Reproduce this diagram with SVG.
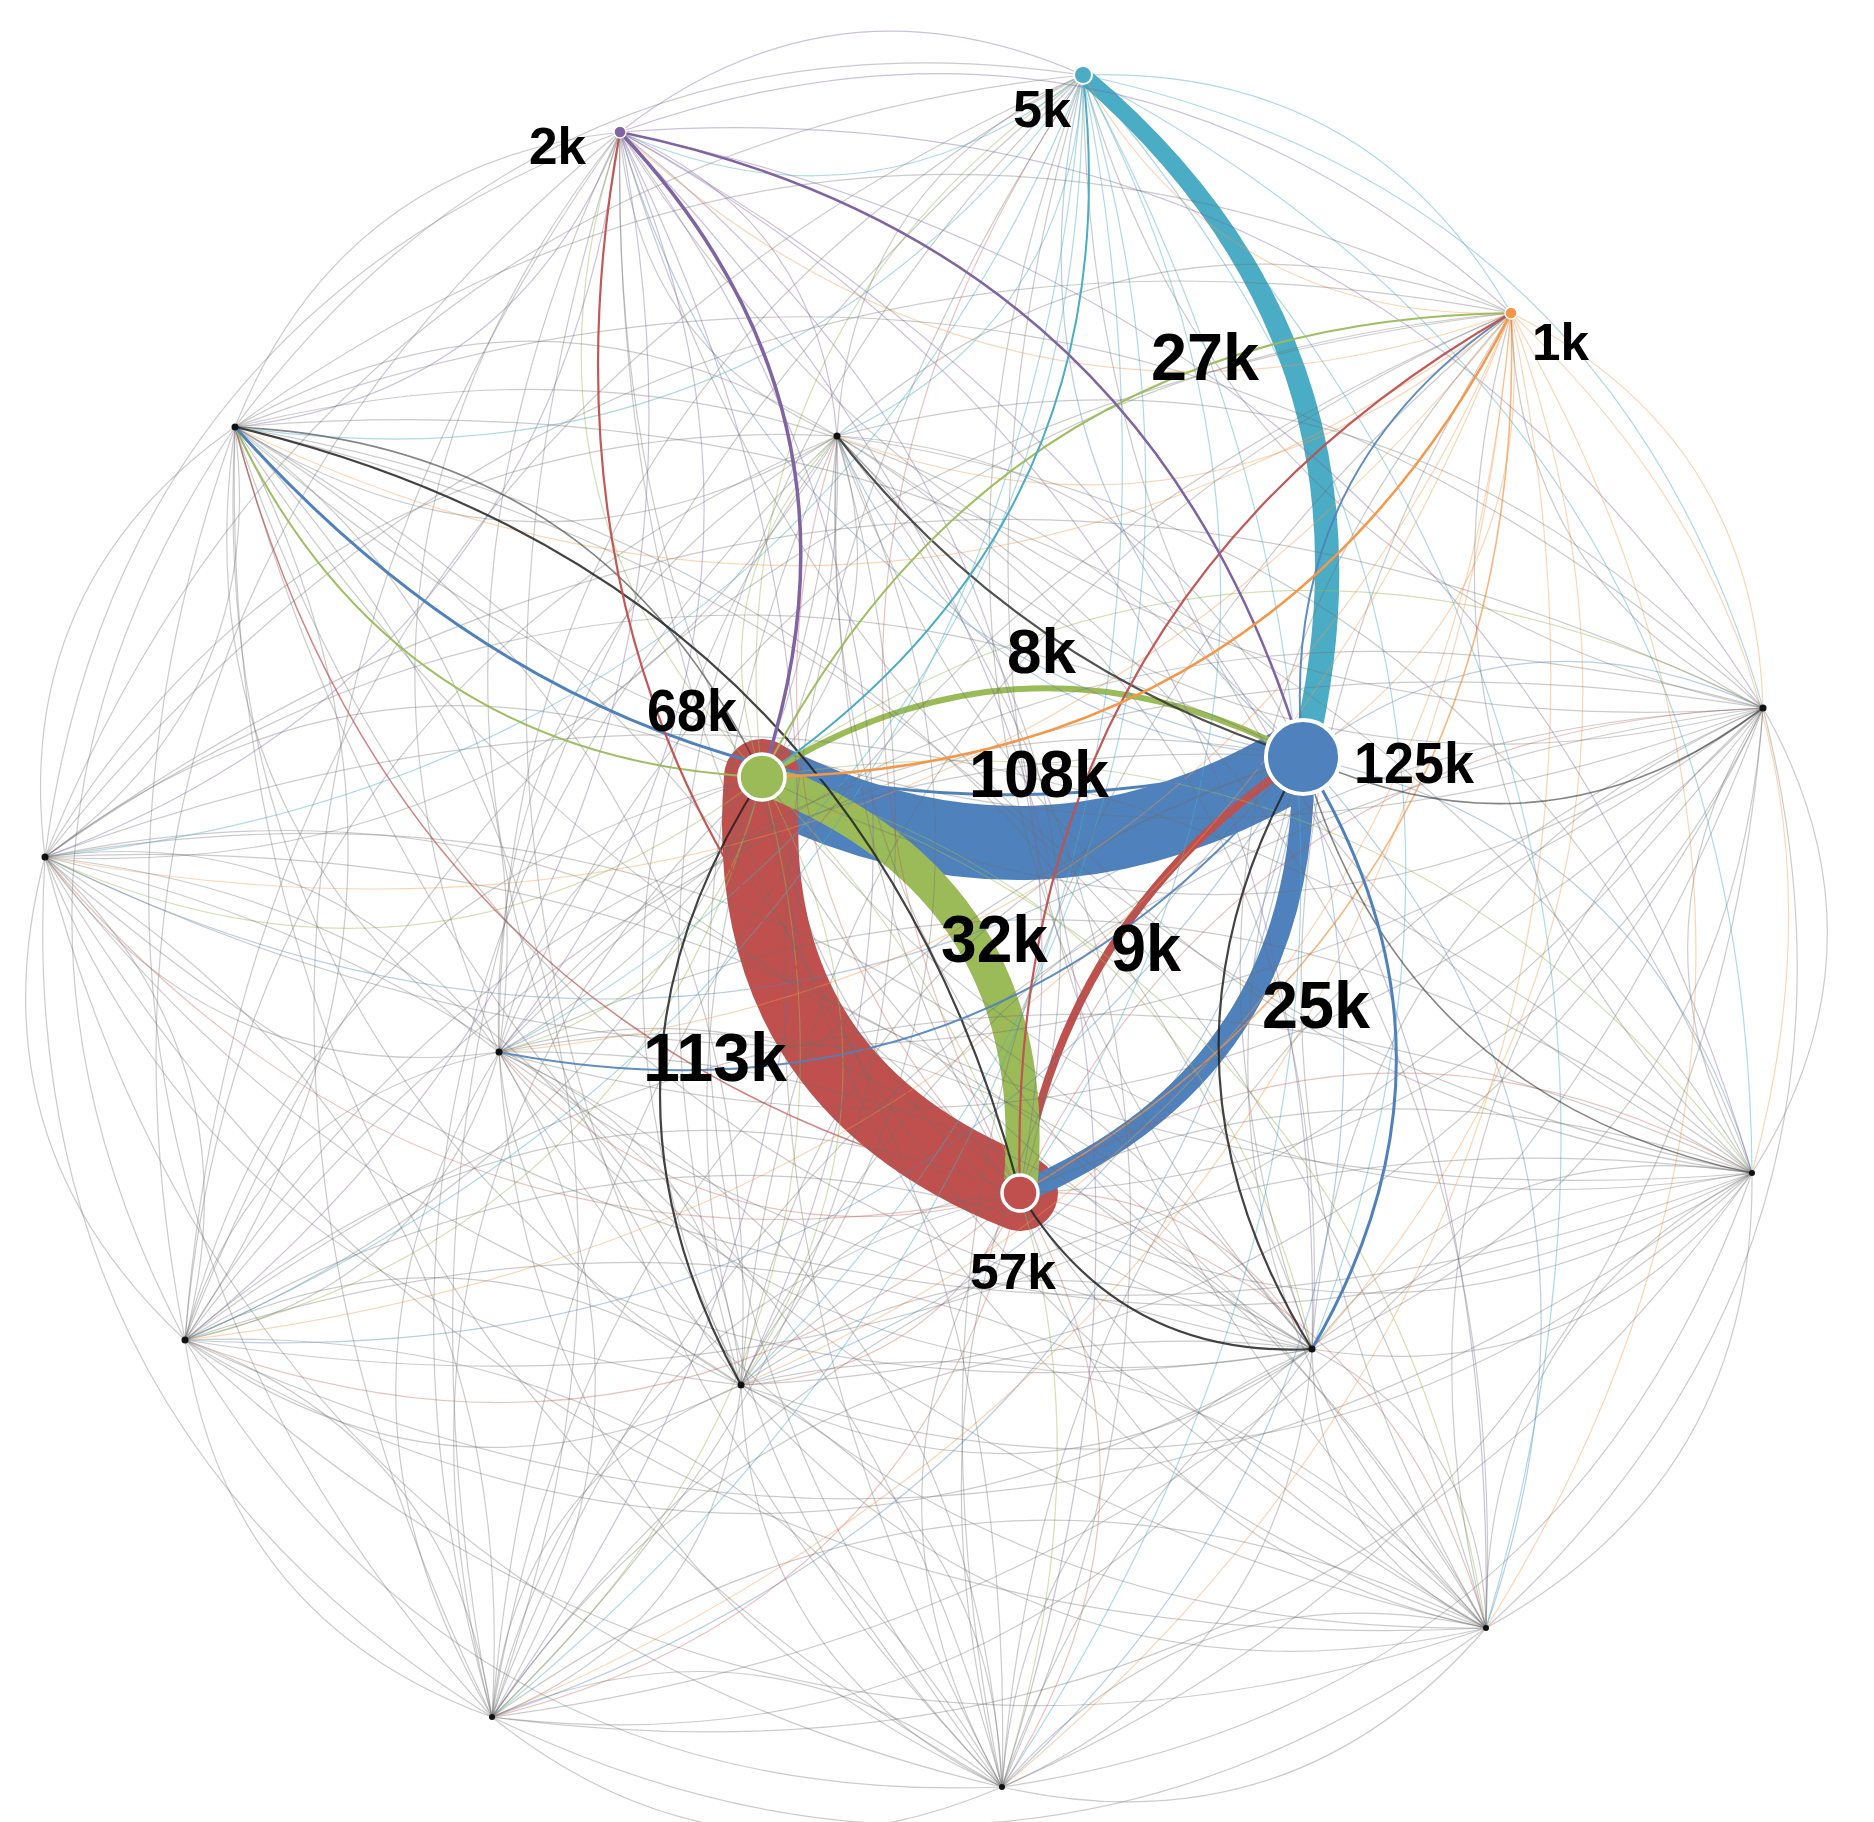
<svg xmlns="http://www.w3.org/2000/svg" width="1874" height="1822" viewBox="0 0 1874 1822">
<style>
.bg{fill:#ffffff}
#e{fill:none;vector-effect:non-scaling-stroke}
.g{stroke:#6e6e6e;stroke-width:1.2;stroke-opacity:.36}
.gm{stroke:#333;stroke-width:1.6;stroke-opacity:.6}
.gd{stroke:#222;stroke-width:2.2;stroke-opacity:.85}
.fg{stroke:#9bbb59;stroke-width:1.2;stroke-opacity:.45}
.fb{stroke:#4f81bd;stroke-width:1.2;stroke-opacity:.4}
.fr{stroke:#c0504d;stroke-width:1.2;stroke-opacity:.35}
.fr2{stroke:#c0504d;stroke-width:1.5;stroke-opacity:.7}
.fc{stroke:#4bacc6;stroke-width:1.2;stroke-opacity:.45}
.fp{stroke:#8064a2;stroke-width:1.2;stroke-opacity:.4}
.fo{stroke:#f79646;stroke-width:1.2;stroke-opacity:.4}
.fo2{stroke:#f79646;stroke-width:1.6;stroke-opacity:.7}
.mg{stroke:#9bbb59;stroke-width:2;stroke-opacity:.95}
.mb{stroke:#4f81bd;stroke-width:3}
.mb2{stroke:#4f81bd;stroke-width:2;stroke-opacity:.9}
.mr{stroke:#c0504d;stroke-width:2.2;stroke-opacity:.95}
.mc{stroke:#4bacc6;stroke-width:2}
.mp{stroke:#8064a2;stroke-width:3.5}
.mp2{stroke:#8064a2;stroke-width:2.5}
.mo{stroke:#f79646;stroke-width:2.5}
.thick{fill:none}
.n{stroke:#fff}
.blk{fill:#111}
.lbl{font-family:"Liberation Sans",Arial,sans-serif;font-weight:bold;fill:#000}
</style>
<defs>
<path id="e" d="M0 0Q0.5 -0.3 1 0"/>
</defs>
<rect class="bg" x="0" y="0" width="1874" height="1822"/>
<g id="edges">
<g id="thick-edges">
<path class="thick" d="M1303 757Q1038 918.5 762 777" stroke="#4f81bd" stroke-width="74" stroke-linecap="round"/>
<path class="thick" d="M1020 1193Q737 1080.5 762 777" stroke="#c0504d" stroke-width="76" stroke-linecap="round"/>
<path class="thick" d="M1303 757Q1309.5 1071 1020 1193" stroke="#4f81bd" stroke-width="22" stroke-linecap="round"/>
<path class="thick" d="M1020 1193Q1065.5 913 1303 757" stroke="#c0504d" stroke-width="8" stroke-linecap="round"/>
<path class="thick" d="M762 777Q1049 887 1020 1193" stroke="#9bbb59" stroke-width="34" stroke-linecap="round"/>
<path class="thick" d="M762 777Q1026.7 610 1303 757" stroke="#9bbb59" stroke-width="6" stroke-linecap="round"/>
<path d="M1088.2 68.9Q1416.4 344 1315.6 760.1L1290.4 753.9Q1391.6 352 1077.8 81.1Z" fill="#4bacc6"/>
</g>
<g id="thin-edges">
<use href="#e" class="fg" transform="matrix(321 -702 702 321 762 777)"/>
<use href="#e" class="fg" transform="matrix(-142 -645 645 -142 762 777)"/>
<use href="#e" class="fg" transform="matrix(75 -341 341 75 762 777)"/>
<use href="#e" class="g" transform="matrix(-75 341 -341 -75 837 436)"/>
<use href="#e" class="fg" transform="matrix(1001 -69 69 1001 762 777)"/>
<use href="#e" class="g" transform="matrix(-1001 69 -69 -1001 1763 708)"/>
<use href="#e" class="fg" transform="matrix(-717 80 -80 -717 762 777)"/>
<use href="#e" class="g" transform="matrix(717 -80 80 717 45 857)"/>
<use href="#e" class="fg" transform="matrix(-263 275 -275 -263 762 777)"/>
<use href="#e" class="g" transform="matrix(263 -275 275 263 499 1052)"/>
<use href="#e" class="fg" transform="matrix(-577 563 -563 -577 762 777)"/>
<use href="#e" class="g" transform="matrix(577 -563 563 577 185 1340)"/>
<use href="#e" class="fg" transform="matrix(-21 608 -608 -21 762 777)"/>
<use href="#e" class="fg" transform="matrix(550 572 -572 550 762 777)"/>
<use href="#e" class="g" transform="matrix(-550 -572 572 -550 1312 1349)"/>
<use href="#e" class="fg" transform="matrix(990 396 -396 990 762 777)"/>
<use href="#e" class="g" transform="matrix(-990 -396 396 -990 1752 1173)"/>
<use href="#e" class="fg" transform="matrix(724 851 -851 724 762 777)"/>
<use href="#e" class="g" transform="matrix(-724 -851 851 -724 1486 1628)"/>
<use href="#e" class="fg" transform="matrix(-270 940 -940 -270 762 777)"/>
<use href="#e" class="g" transform="matrix(270 -940 940 270 492 1717)"/>
<use href="#e" class="fg" transform="matrix(240 1010 -1010 240 762 777)"/>
<use href="#e" class="g" transform="matrix(-240 -1010 1010 -240 1002 1787)"/>
<use href="#e" class="fb" transform="matrix(-220 -682 682 -220 1303 757)"/>
<use href="#e" class="fb" transform="matrix(-683 -625 625 -683 1303 757)"/>
<use href="#e" class="fo" transform="matrix(-208 444 -444 -208 1511 313)"/>
<use href="#e" class="g" transform="matrix(1068 330 -330 1068 235 427)"/>
<use href="#e" class="fb" transform="matrix(-466 -321 321 -466 1303 757)"/>
<use href="#e" class="g" transform="matrix(466 321 -321 466 837 436)"/>
<use href="#e" class="fb" transform="matrix(460 -49 49 460 1303 757)"/>
<use href="#e" class="fb" transform="matrix(-1258 100 -100 -1258 1303 757)"/>
<use href="#e" class="g" transform="matrix(1258 -100 100 1258 45 857)"/>
<use href="#e" class="g" transform="matrix(804 -295 295 804 499 1052)"/>
<use href="#e" class="fb" transform="matrix(-1118 583 -583 -1118 1303 757)"/>
<use href="#e" class="g" transform="matrix(1118 -583 583 1118 185 1340)"/>
<use href="#e" class="fb" transform="matrix(-562 628 -628 -562 1303 757)"/>
<use href="#e" class="g" transform="matrix(562 -628 628 562 741 1385)"/>
<use href="#e" class="fb" transform="matrix(449 416 -416 449 1303 757)"/>
<use href="#e" class="fb" transform="matrix(183 871 -871 183 1303 757)"/>
<use href="#e" class="g" transform="matrix(-183 -871 871 -183 1486 1628)"/>
<use href="#e" class="fb" transform="matrix(-811 960 -960 -811 1303 757)"/>
<use href="#e" class="g" transform="matrix(811 -960 960 811 492 1717)"/>
<use href="#e" class="fb" transform="matrix(-301 1030 -1030 -301 1303 757)"/>
<use href="#e" class="g" transform="matrix(301 -1030 1030 301 1002 1787)"/>
<use href="#e" class="fr" transform="matrix(63 -1118 1118 63 1020 1193)"/>
<use href="#e" class="fc" transform="matrix(-63 1118 -1118 -63 1083 75)"/>
<use href="#e" class="fp" transform="matrix(400 1061 -1061 400 620 132)"/>
<use href="#e" class="fo2" transform="matrix(-491 880 -880 -491 1511 313)"/>
<use href="#e" class="fr2" transform="matrix(-785 -766 766 -785 1020 1193)"/>
<use href="#e" class="fr" transform="matrix(-183 -757 757 -183 1020 1193)"/>
<use href="#e" class="g" transform="matrix(183 757 -757 183 837 436)"/>
<use href="#e" class="fr" transform="matrix(743 -485 485 743 1020 1193)"/>
<use href="#e" class="g" transform="matrix(-743 485 -485 -743 1763 708)"/>
<use href="#e" class="fr" transform="matrix(-975 -336 336 -975 1020 1193)"/>
<use href="#e" class="g" transform="matrix(975 336 -336 975 45 857)"/>
<use href="#e" class="fr" transform="matrix(-521 -141 141 -521 1020 1193)"/>
<use href="#e" class="g" transform="matrix(521 141 -141 521 499 1052)"/>
<use href="#e" class="fr" transform="matrix(-835 147 -147 -835 1020 1193)"/>
<use href="#e" class="g" transform="matrix(835 -147 147 835 185 1340)"/>
<use href="#e" class="fr" transform="matrix(-279 192 -192 -279 1020 1193)"/>
<use href="#e" class="g" transform="matrix(279 -192 192 279 741 1385)"/>
<use href="#e" class="fr" transform="matrix(292 156 -156 292 1020 1193)"/>
<use href="#e" class="fr" transform="matrix(732 -20 20 732 1020 1193)"/>
<use href="#e" class="g" transform="matrix(-732 20 -20 -732 1752 1173)"/>
<use href="#e" class="fr" transform="matrix(466 435 -435 466 1020 1193)"/>
<use href="#e" class="g" transform="matrix(-466 -435 435 -466 1486 1628)"/>
<use href="#e" class="fr" transform="matrix(-528 524 -524 -528 1020 1193)"/>
<use href="#e" class="g" transform="matrix(528 -524 524 528 492 1717)"/>
<use href="#e" class="fr" transform="matrix(-18 594 -594 -18 1020 1193)"/>
<use href="#e" class="g" transform="matrix(18 -594 594 18 1002 1787)"/>
<use href="#e" class="fc" transform="matrix(-463 57 -57 -463 1083 75)"/>
<use href="#e" class="fp" transform="matrix(463 -57 57 463 620 132)"/>
<use href="#e" class="fc" transform="matrix(428 238 -238 428 1083 75)"/>
<use href="#e" class="fo" transform="matrix(-428 -238 238 -428 1511 313)"/>
<use href="#e" class="fc" transform="matrix(-848 352 -352 -848 1083 75)"/>
<use href="#e" class="g" transform="matrix(848 -352 352 848 235 427)"/>
<use href="#e" class="fc" transform="matrix(-246 361 -361 -246 1083 75)"/>
<use href="#e" class="g" transform="matrix(246 -361 361 246 837 436)"/>
<use href="#e" class="fc" transform="matrix(680 633 -633 680 1083 75)"/>
<use href="#e" class="g" transform="matrix(-680 -633 633 -680 1763 708)"/>
<use href="#e" class="fc" transform="matrix(-1038 782 -782 -1038 1083 75)"/>
<use href="#e" class="g" transform="matrix(1038 -782 782 1038 45 857)"/>
<use href="#e" class="fc" transform="matrix(-584 977 -977 -584 1083 75)"/>
<use href="#e" class="g" transform="matrix(584 -977 977 584 499 1052)"/>
<use href="#e" class="fc" transform="matrix(-898 1265 -1265 -898 1083 75)"/>
<use href="#e" class="g" transform="matrix(898 -1265 1265 898 185 1340)"/>
<use href="#e" class="fc" transform="matrix(-342 1310 -1310 -342 1083 75)"/>
<use href="#e" class="g" transform="matrix(342 -1310 1310 342 741 1385)"/>
<use href="#e" class="fc" transform="matrix(229 1274 -1274 229 1083 75)"/>
<use href="#e" class="g" transform="matrix(-229 -1274 1274 -229 1312 1349)"/>
<use href="#e" class="fc" transform="matrix(669 1098 -1098 669 1083 75)"/>
<use href="#e" class="g" transform="matrix(-669 -1098 1098 -669 1752 1173)"/>
<use href="#e" class="fc" transform="matrix(403 1553 -1553 403 1083 75)"/>
<use href="#e" class="g" transform="matrix(-403 -1553 1553 -403 1486 1628)"/>
<use href="#e" class="fc" transform="matrix(-591 1642 -1642 -591 1083 75)"/>
<use href="#e" class="g" transform="matrix(591 -1642 1642 591 492 1717)"/>
<use href="#e" class="fc" transform="matrix(-81 1712 -1712 -81 1083 75)"/>
<use href="#e" class="g" transform="matrix(81 -1712 1712 81 1002 1787)"/>
<use href="#e" class="fp" transform="matrix(891 181 -181 891 620 132)"/>
<use href="#e" class="fo" transform="matrix(-891 -181 181 -891 1511 313)"/>
<use href="#e" class="fp" transform="matrix(-385 295 -295 -385 620 132)"/>
<use href="#e" class="g" transform="matrix(385 -295 295 385 235 427)"/>
<use href="#e" class="fp" transform="matrix(217 304 -304 217 620 132)"/>
<use href="#e" class="g" transform="matrix(-217 -304 304 -217 837 436)"/>
<use href="#e" class="fp" transform="matrix(1143 576 -576 1143 620 132)"/>
<use href="#e" class="g" transform="matrix(-1143 -576 576 -1143 1763 708)"/>
<use href="#e" class="fp" transform="matrix(-575 725 -725 -575 620 132)"/>
<use href="#e" class="g" transform="matrix(575 -725 725 575 45 857)"/>
<use href="#e" class="fp" transform="matrix(-121 920 -920 -121 620 132)"/>
<use href="#e" class="g" transform="matrix(121 -920 920 121 499 1052)"/>
<use href="#e" class="fp" transform="matrix(-435 1208 -1208 -435 620 132)"/>
<use href="#e" class="g" transform="matrix(435 -1208 1208 435 185 1340)"/>
<use href="#e" class="fp" transform="matrix(121 1253 -1253 121 620 132)"/>
<use href="#e" class="g" transform="matrix(-121 -1253 1253 -121 741 1385)"/>
<use href="#e" class="fp" transform="matrix(692 1217 -1217 692 620 132)"/>
<use href="#e" class="g" transform="matrix(-692 -1217 1217 -692 1312 1349)"/>
<use href="#e" class="fp" transform="matrix(1132 1041 -1041 1132 620 132)"/>
<use href="#e" class="g" transform="matrix(-1132 -1041 1041 -1132 1752 1173)"/>
<use href="#e" class="fp" transform="matrix(866 1496 -1496 866 620 132)"/>
<use href="#e" class="g" transform="matrix(-866 -1496 1496 -866 1486 1628)"/>
<use href="#e" class="fp" transform="matrix(-128 1585 -1585 -128 620 132)"/>
<use href="#e" class="g" transform="matrix(128 -1585 1585 128 492 1717)"/>
<use href="#e" class="fp" transform="matrix(382 1655 -1655 382 620 132)"/>
<use href="#e" class="g" transform="matrix(-382 -1655 1655 -382 1002 1787)"/>
<use href="#e" class="fo" transform="matrix(-1276 114 -114 -1276 1511 313)"/>
<use href="#e" class="g" transform="matrix(1276 -114 114 1276 235 427)"/>
<use href="#e" class="fo" transform="matrix(-674 123 -123 -674 1511 313)"/>
<use href="#e" class="g" transform="matrix(674 -123 123 674 837 436)"/>
<use href="#e" class="fo" transform="matrix(252 395 -395 252 1511 313)"/>
<use href="#e" class="g" transform="matrix(-252 -395 395 -252 1763 708)"/>
<use href="#e" class="fo" transform="matrix(-1466 544 -544 -1466 1511 313)"/>
<use href="#e" class="g" transform="matrix(1466 -544 544 1466 45 857)"/>
<use href="#e" class="fo" transform="matrix(-1012 739 -739 -1012 1511 313)"/>
<use href="#e" class="g" transform="matrix(1012 -739 739 1012 499 1052)"/>
<use href="#e" class="fo" transform="matrix(-1326 1027 -1027 -1326 1511 313)"/>
<use href="#e" class="g" transform="matrix(1326 -1027 1027 1326 185 1340)"/>
<use href="#e" class="fo" transform="matrix(-770 1072 -1072 -770 1511 313)"/>
<use href="#e" class="g" transform="matrix(770 -1072 1072 770 741 1385)"/>
<use href="#e" class="fo" transform="matrix(-199 1036 -1036 -199 1511 313)"/>
<use href="#e" class="g" transform="matrix(199 -1036 1036 199 1312 1349)"/>
<use href="#e" class="fo" transform="matrix(241 860 -860 241 1511 313)"/>
<use href="#e" class="g" transform="matrix(-241 -860 860 -241 1752 1173)"/>
<use href="#e" class="fo" transform="matrix(-25 1315 -1315 -25 1511 313)"/>
<use href="#e" class="g" transform="matrix(25 -1315 1315 25 1486 1628)"/>
<use href="#e" class="fo" transform="matrix(-1019 1404 -1404 -1019 1511 313)"/>
<use href="#e" class="g" transform="matrix(1019 -1404 1404 1019 492 1717)"/>
<use href="#e" class="fo" transform="matrix(-509 1474 -1474 -509 1511 313)"/>
<use href="#e" class="g" transform="matrix(509 -1474 1474 509 1002 1787)"/>
<use href="#e" class="g" transform="matrix(602 9 -9 602 235 427)"/>
<use href="#e" class="g" transform="matrix(-602 -9 9 -602 837 436)"/>
<use href="#e" class="g" transform="matrix(1528 281 -281 1528 235 427)"/>
<use href="#e" class="g" transform="matrix(-1528 -281 281 -1528 1763 708)"/>
<use href="#e" class="g" transform="matrix(-190 430 -430 -190 235 427)"/>
<use href="#e" class="g" transform="matrix(190 -430 430 190 45 857)"/>
<use href="#e" class="g" transform="matrix(264 625 -625 264 235 427)"/>
<use href="#e" class="g" transform="matrix(-264 -625 625 -264 499 1052)"/>
<use href="#e" class="g" transform="matrix(-50 913 -913 -50 235 427)"/>
<use href="#e" class="g" transform="matrix(50 -913 913 50 185 1340)"/>
<use href="#e" class="g" transform="matrix(506 958 -958 506 235 427)"/>
<use href="#e" class="g" transform="matrix(-506 -958 958 -506 741 1385)"/>
<use href="#e" class="g" transform="matrix(1077 922 -922 1077 235 427)"/>
<use href="#e" class="g" transform="matrix(-1077 -922 922 -1077 1312 1349)"/>
<use href="#e" class="g" transform="matrix(1517 746 -746 1517 235 427)"/>
<use href="#e" class="g" transform="matrix(-1517 -746 746 -1517 1752 1173)"/>
<use href="#e" class="g" transform="matrix(1251 1201 -1201 1251 235 427)"/>
<use href="#e" class="g" transform="matrix(-1251 -1201 1201 -1251 1486 1628)"/>
<use href="#e" class="g" transform="matrix(257 1290 -1290 257 235 427)"/>
<use href="#e" class="g" transform="matrix(-257 -1290 1290 -257 492 1717)"/>
<use href="#e" class="g" transform="matrix(767 1360 -1360 767 235 427)"/>
<use href="#e" class="g" transform="matrix(-767 -1360 1360 -767 1002 1787)"/>
<use href="#e" class="g" transform="matrix(926 272 -272 926 837 436)"/>
<use href="#e" class="g" transform="matrix(-926 -272 272 -926 1763 708)"/>
<use href="#e" class="g" transform="matrix(-792 421 -421 -792 837 436)"/>
<use href="#e" class="g" transform="matrix(792 -421 421 792 45 857)"/>
<use href="#e" class="g" transform="matrix(-338 616 -616 -338 837 436)"/>
<use href="#e" class="g" transform="matrix(338 -616 616 338 499 1052)"/>
<use href="#e" class="g" transform="matrix(-652 904 -904 -652 837 436)"/>
<use href="#e" class="g" transform="matrix(652 -904 904 652 185 1340)"/>
<use href="#e" class="g" transform="matrix(-96 949 -949 -96 837 436)"/>
<use href="#e" class="g" transform="matrix(96 -949 949 96 741 1385)"/>
<use href="#e" class="g" transform="matrix(475 913 -913 475 837 436)"/>
<use href="#e" class="g" transform="matrix(-475 -913 913 -475 1312 1349)"/>
<use href="#e" class="g" transform="matrix(915 737 -737 915 837 436)"/>
<use href="#e" class="g" transform="matrix(-915 -737 737 -915 1752 1173)"/>
<use href="#e" class="g" transform="matrix(649 1192 -1192 649 837 436)"/>
<use href="#e" class="g" transform="matrix(-649 -1192 1192 -649 1486 1628)"/>
<use href="#e" class="g" transform="matrix(-345 1281 -1281 -345 837 436)"/>
<use href="#e" class="g" transform="matrix(345 -1281 1281 345 492 1717)"/>
<use href="#e" class="g" transform="matrix(165 1351 -1351 165 837 436)"/>
<use href="#e" class="g" transform="matrix(-165 -1351 1351 -165 1002 1787)"/>
<use href="#e" class="g" transform="matrix(-1718 149 -149 -1718 1763 708)"/>
<use href="#e" class="g" transform="matrix(1718 -149 149 1718 45 857)"/>
<use href="#e" class="g" transform="matrix(-1264 344 -344 -1264 1763 708)"/>
<use href="#e" class="g" transform="matrix(1264 -344 344 1264 499 1052)"/>
<use href="#e" class="g" transform="matrix(-1578 632 -632 -1578 1763 708)"/>
<use href="#e" class="g" transform="matrix(1578 -632 632 1578 185 1340)"/>
<use href="#e" class="g" transform="matrix(-1022 677 -677 -1022 1763 708)"/>
<use href="#e" class="g" transform="matrix(1022 -677 677 1022 741 1385)"/>
<use href="#e" class="g" transform="matrix(-451 641 -641 -451 1763 708)"/>
<use href="#e" class="g" transform="matrix(451 -641 641 451 1312 1349)"/>
<use href="#e" class="g" transform="matrix(-11 465 -465 -11 1763 708)"/>
<use href="#e" class="g" transform="matrix(11 -465 465 11 1752 1173)"/>
<use href="#e" class="g" transform="matrix(-277 920 -920 -277 1763 708)"/>
<use href="#e" class="g" transform="matrix(277 -920 920 277 1486 1628)"/>
<use href="#e" class="g" transform="matrix(-1271 1009 -1009 -1271 1763 708)"/>
<use href="#e" class="g" transform="matrix(1271 -1009 1009 1271 492 1717)"/>
<use href="#e" class="g" transform="matrix(-761 1079 -1079 -761 1763 708)"/>
<use href="#e" class="g" transform="matrix(761 -1079 1079 761 1002 1787)"/>
<use href="#e" class="g" transform="matrix(454 195 -195 454 45 857)"/>
<use href="#e" class="g" transform="matrix(-454 -195 195 -454 499 1052)"/>
<use href="#e" class="g" transform="matrix(140 483 -483 140 45 857)"/>
<use href="#e" class="g" transform="matrix(-140 -483 483 -140 185 1340)"/>
<use href="#e" class="g" transform="matrix(696 528 -528 696 45 857)"/>
<use href="#e" class="g" transform="matrix(-696 -528 528 -696 741 1385)"/>
<use href="#e" class="g" transform="matrix(1267 492 -492 1267 45 857)"/>
<use href="#e" class="g" transform="matrix(-1267 -492 492 -1267 1312 1349)"/>
<use href="#e" class="g" transform="matrix(1707 316 -316 1707 45 857)"/>
<use href="#e" class="g" transform="matrix(-1707 -316 316 -1707 1752 1173)"/>
<use href="#e" class="g" transform="matrix(1441 771 -771 1441 45 857)"/>
<use href="#e" class="g" transform="matrix(-1441 -771 771 -1441 1486 1628)"/>
<use href="#e" class="g" transform="matrix(447 860 -860 447 45 857)"/>
<use href="#e" class="g" transform="matrix(-447 -860 860 -447 492 1717)"/>
<use href="#e" class="g" transform="matrix(957 930 -930 957 45 857)"/>
<use href="#e" class="g" transform="matrix(-957 -930 930 -957 1002 1787)"/>
<use href="#e" class="g" transform="matrix(-314 288 -288 -314 499 1052)"/>
<use href="#e" class="g" transform="matrix(314 -288 288 314 185 1340)"/>
<use href="#e" class="g" transform="matrix(242 333 -333 242 499 1052)"/>
<use href="#e" class="g" transform="matrix(-242 -333 333 -242 741 1385)"/>
<use href="#e" class="g" transform="matrix(813 297 -297 813 499 1052)"/>
<use href="#e" class="g" transform="matrix(-813 -297 297 -813 1312 1349)"/>
<use href="#e" class="g" transform="matrix(1253 121 -121 1253 499 1052)"/>
<use href="#e" class="g" transform="matrix(-1253 -121 121 -1253 1752 1173)"/>
<use href="#e" class="g" transform="matrix(987 576 -576 987 499 1052)"/>
<use href="#e" class="g" transform="matrix(-987 -576 576 -987 1486 1628)"/>
<use href="#e" class="g" transform="matrix(-7 665 -665 -7 499 1052)"/>
<use href="#e" class="g" transform="matrix(7 -665 665 7 492 1717)"/>
<use href="#e" class="g" transform="matrix(503 735 -735 503 499 1052)"/>
<use href="#e" class="g" transform="matrix(-503 -735 735 -503 1002 1787)"/>
<use href="#e" class="g" transform="matrix(556 45 -45 556 185 1340)"/>
<use href="#e" class="g" transform="matrix(-556 -45 45 -556 741 1385)"/>
<use href="#e" class="g" transform="matrix(1127 9 -9 1127 185 1340)"/>
<use href="#e" class="g" transform="matrix(-1127 -9 9 -1127 1312 1349)"/>
<use href="#e" class="g" transform="matrix(1567 -167 167 1567 185 1340)"/>
<use href="#e" class="g" transform="matrix(-1567 167 -167 -1567 1752 1173)"/>
<use href="#e" class="g" transform="matrix(1301 288 -288 1301 185 1340)"/>
<use href="#e" class="g" transform="matrix(-1301 -288 288 -1301 1486 1628)"/>
<use href="#e" class="g" transform="matrix(307 377 -377 307 185 1340)"/>
<use href="#e" class="g" transform="matrix(-307 -377 377 -307 492 1717)"/>
<use href="#e" class="g" transform="matrix(817 447 -447 817 185 1340)"/>
<use href="#e" class="g" transform="matrix(-817 -447 447 -817 1002 1787)"/>
<use href="#e" class="g" transform="matrix(571 -36 36 571 741 1385)"/>
<use href="#e" class="g" transform="matrix(-571 36 -36 -571 1312 1349)"/>
<use href="#e" class="g" transform="matrix(1011 -212 212 1011 741 1385)"/>
<use href="#e" class="g" transform="matrix(-1011 212 -212 -1011 1752 1173)"/>
<use href="#e" class="g" transform="matrix(745 243 -243 745 741 1385)"/>
<use href="#e" class="g" transform="matrix(-745 -243 243 -745 1486 1628)"/>
<use href="#e" class="g" transform="matrix(-249 332 -332 -249 741 1385)"/>
<use href="#e" class="g" transform="matrix(249 -332 332 249 492 1717)"/>
<use href="#e" class="g" transform="matrix(261 402 -402 261 741 1385)"/>
<use href="#e" class="g" transform="matrix(-261 -402 402 -261 1002 1787)"/>
<use href="#e" class="g" transform="matrix(440 -176 176 440 1312 1349)"/>
<use href="#e" class="g" transform="matrix(-440 176 -176 -440 1752 1173)"/>
<use href="#e" class="g" transform="matrix(174 279 -279 174 1312 1349)"/>
<use href="#e" class="g" transform="matrix(-174 -279 279 -174 1486 1628)"/>
<use href="#e" class="g" transform="matrix(-820 368 -368 -820 1312 1349)"/>
<use href="#e" class="g" transform="matrix(820 -368 368 820 492 1717)"/>
<use href="#e" class="g" transform="matrix(-310 438 -438 -310 1312 1349)"/>
<use href="#e" class="g" transform="matrix(310 -438 438 310 1002 1787)"/>
<use href="#e" class="g" transform="matrix(-266 455 -455 -266 1752 1173)"/>
<use href="#e" class="g" transform="matrix(266 -455 455 266 1486 1628)"/>
<use href="#e" class="g" transform="matrix(-1260 544 -544 -1260 1752 1173)"/>
<use href="#e" class="g" transform="matrix(1260 -544 544 1260 492 1717)"/>
<use href="#e" class="g" transform="matrix(-750 614 -614 -750 1752 1173)"/>
<use href="#e" class="g" transform="matrix(750 -614 614 750 1002 1787)"/>
<use href="#e" class="g" transform="matrix(-994 89 -89 -994 1486 1628)"/>
<use href="#e" class="g" transform="matrix(994 -89 89 994 492 1717)"/>
<use href="#e" class="g" transform="matrix(-484 159 -159 -484 1486 1628)"/>
<use href="#e" class="g" transform="matrix(484 -159 159 484 1002 1787)"/>
<use href="#e" class="g" transform="matrix(510 70 -70 510 492 1717)"/>
<use href="#e" class="g" transform="matrix(-510 -70 70 -510 1002 1787)"/>
</g>
<g id="medium-edges">
<path class="thick" d="M837 436Q1020 669 1303 757" stroke="#333" stroke-width="2.2" stroke-opacity=".85"/>
<use href="#e" class="gm" transform="matrix(527 350 -350 527 235 427)"/>
<use href="#e" class="gm" transform="matrix(-460 49 -49 -460 1763 708)"/>
<use href="#e" class="gm" transform="matrix(-449 -416 416 -449 1752 1173)"/>
<use href="#e" class="gd" transform="matrix(21 -608 608 21 741 1385)"/>
<use href="#e" class="gd" transform="matrix(-9 -592 592 -9 1312 1349)"/>
<use href="#e" class="gd" transform="matrix(785 766 -766 785 235 427)"/>
<use href="#e" class="gd" transform="matrix(-292 -156 156 -292 1312 1349)"/>
<use href="#e" class="mg" transform="matrix(749 -464 464 749 762 777)"/>
<use href="#e" class="mg" transform="matrix(-527 -350 350 -527 762 777)"/>
<use href="#e" class="mb" transform="matrix(-1068 -330 330 -1068 1303 757)"/>
<use href="#e" class="mb" transform="matrix(9 592 -592 9 1303 757)"/>
<use href="#e" class="mb2" transform="matrix(208 -444 444 208 1303 757)"/>
<use href="#e" class="mb2" transform="matrix(-804 295 -295 -804 1303 757)"/>
<use href="#e" class="mr" transform="matrix(-400 -1061 1061 -400 1020 1193)"/>
<use href="#e" class="mr" transform="matrix(491 -880 880 491 1020 1193)"/>
<use href="#e" class="mc" transform="matrix(-321 702 -702 -321 1083 75)"/>
<use href="#e" class="mp" transform="matrix(142 645 -645 142 620 132)"/>
<use href="#e" class="mp2" transform="matrix(683 625 -625 683 620 132)"/>
<use href="#e" class="mo" transform="matrix(-749 464 -464 -749 1511 313)"/>
</g>
</g>
<g id="nodes">
<g id="node-125k"><circle cx="1303" cy="757" r="37" fill="#4f81bd" class="n" stroke-width="4"/><text class="lbl" x="1354" y="783" font-size="58" textLength="120" lengthAdjust="spacingAndGlyphs">125k</text></g>
<g id="node-68k"><circle cx="762" cy="777" r="23" fill="#9bbb59" class="n" stroke-width="3.5"/><text class="lbl" x="647" y="731" font-size="59" textLength="90" lengthAdjust="spacingAndGlyphs">68k</text></g>
<g id="node-57k"><circle cx="1020" cy="1193" r="18" fill="#c0504d" class="n" stroke-width="3.5"/><text class="lbl" x="970" y="1289" font-size="50" textLength="86" lengthAdjust="spacingAndGlyphs">57k</text></g>
<g id="node-5k"><circle cx="1083" cy="75" r="9" fill="#4bacc6" class="n" stroke-width="2"/><text class="lbl" x="1013" y="127" font-size="52" textLength="58" lengthAdjust="spacingAndGlyphs">5k</text></g>
<g id="node-2k"><circle cx="620" cy="132" r="6" fill="#8064a2" class="n" stroke-width="1.5"/><text class="lbl" x="529" y="164" font-size="52" textLength="57" lengthAdjust="spacingAndGlyphs">2k</text></g>
<g id="node-1k"><circle cx="1511" cy="313" r="6" fill="#f79646" class="n" stroke-width="1.5"/><text class="lbl" x="1532" y="360" font-size="52" textLength="57" lengthAdjust="spacingAndGlyphs">1k</text></g>
<g id="node-a"><circle class="blk" cx="235" cy="427" r="3.5"/></g>
<g id="node-b"><circle class="blk" cx="837" cy="436" r="3.5"/></g>
<g id="node-c"><circle class="blk" cx="1763" cy="708" r="3.5"/></g>
<g id="node-d"><circle class="blk" cx="45" cy="857" r="3.5"/></g>
<g id="node-e"><circle class="blk" cx="499" cy="1052" r="3.5"/></g>
<g id="node-f"><circle class="blk" cx="185" cy="1340" r="3.5"/></g>
<g id="node-g"><circle class="blk" cx="741" cy="1385" r="3.5"/></g>
<g id="node-h"><circle class="blk" cx="1312" cy="1349" r="3.5"/></g>
<g id="node-i"><circle class="blk" cx="1752" cy="1173" r="3"/></g>
<g id="node-j"><circle class="blk" cx="1486" cy="1628" r="3"/></g>
<g id="node-k"><circle class="blk" cx="492" cy="1717" r="3"/></g>
<g id="node-l"><circle class="blk" cx="1002" cy="1787" r="3"/></g>
</g>
<g id="edge-labels">
<text class="lbl" x="1151" y="380" font-size="66" textLength="108" lengthAdjust="spacingAndGlyphs">27k</text>
<text class="lbl" x="1007" y="673" font-size="63" textLength="69" lengthAdjust="spacingAndGlyphs">8k</text>
<text class="lbl" x="969" y="797" font-size="66" textLength="140" lengthAdjust="spacingAndGlyphs">108k</text>
<text class="lbl" x="941" y="962" font-size="66" textLength="107" lengthAdjust="spacingAndGlyphs">32k</text>
<text class="lbl" x="1111" y="971" font-size="66" textLength="70" lengthAdjust="spacingAndGlyphs">9k</text>
<text class="lbl" x="1262" y="1028" font-size="66" textLength="108" lengthAdjust="spacingAndGlyphs">25k</text>
<text class="lbl" x="643" y="1081" font-size="68" textLength="144" lengthAdjust="spacingAndGlyphs">113k</text>
</g>
</svg>
